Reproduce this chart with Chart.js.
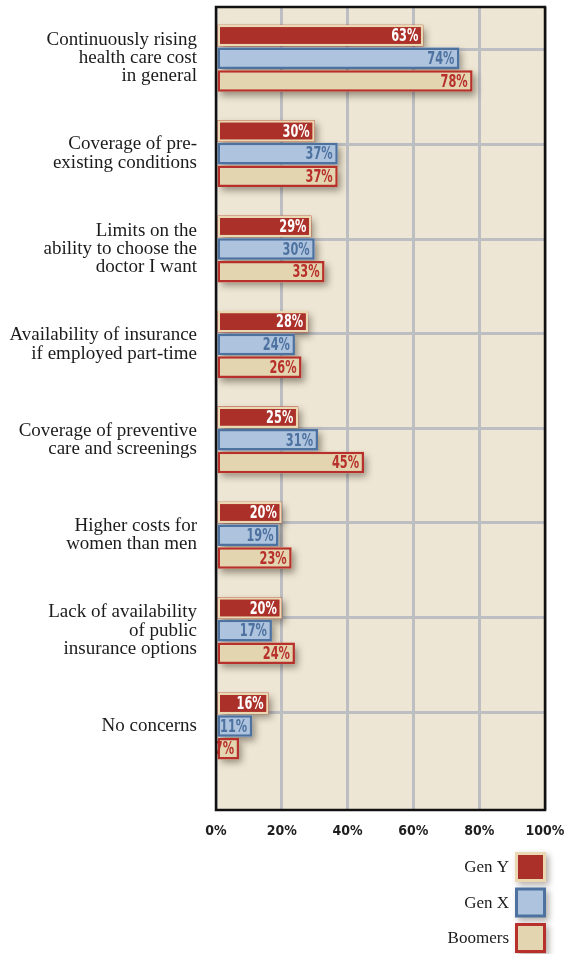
<!DOCTYPE html>
<html>
<head>
<meta charset="utf-8">
<script src="https://cdn.jsdelivr.net/npm/chart.js@4/dist/chart.umd.min.js"></script>
<style>
  html, body { margin: 0; padding: 0; background: #ffffff; }
  #wrap { width: 575px; height: 954px; position: relative; }
</style>
</head>
<body>
<div id="wrap"><canvas id="chart"></canvas></div>
<script>
// Health care concerns by generation (% of respondents)
const categories = [
  ['Continuously rising', 'health care cost', 'in general'],
  ['Coverage of pre-', 'existing conditions'],
  ['Limits on the', 'ability to choose the', 'doctor I want'],
  ['Availability of insurance', 'if employed part-time'],
  ['Coverage of preventive', 'care and screenings'],
  ['Higher costs for', 'women than men'],
  ['Lack of availability', 'of public', 'insurance options'],
  ['No concerns']
];
const genY    = [63, 30, 29, 28, 25, 20, 20, 16];
const genX    = [74, 37, 30, 24, 31, 19, 17, 11];
const boomers = [78, 37, 33, 26, 45, 23, 24, 7];
const seriesNames = ['Gen Y', 'Gen X', 'Boomers'];
const xTickValues = [0, 20, 40, 60, 80, 100];

const PLOT_BG = '#EEE6D4';
const GRID = '#BDBEC2';
const NARROW = "'Liberation Sans Narrow', 'DejaVu Sans Condensed', 'Arial Narrow', sans-serif";
const SERIF = "'Liberation Serif', 'DejaVu Serif', serif";

const styles = [
  { bg: '#AB3029', border: '#EAD8B2', text: '#FFFFFF' },
  { bg: '#AEC3DE', border: '#4E72A0', text: '#4E72A0' },
  { bg: '#E3D5B0', border: '#B8302B', text: '#B8302B' }
];

const toPoints = arr => arr.map((v, i) => ({ x: v, y: i }));

const datasets = [genY, genX, boomers].map((arr, k) => ({
  label: seriesNames[k],
  data: toPoints(arr),
  backgroundColor: styles[k].bg,
  borderColor: styles[k].border,
  borderWidth: 2.5,
  borderSkipped: false,
  valueColor: styles[k].text
}));

// plot background
const plotBackground = {
  id: 'plotBackground',
  beforeDraw(chart) {
    const { ctx, chartArea: a } = chart;
    ctx.save();
    ctx.fillStyle = PLOT_BG;
    ctx.fillRect(a.left, a.top, a.right - a.left, a.bottom - a.top);
    ctx.restore();
  }
};

// soft drop shadow under every bar
const barShadows = {
  id: 'barShadows',
  beforeDatasetsDraw(chart) {
    const ctx = chart.ctx;
    ctx.save();
    chart.data.datasets.forEach((ds, di) => {
      chart.getDatasetMeta(di).data.forEach(el => {
        const p = el.getProps(['x', 'y', 'base', 'height'], true);
        const left = Math.min(p.base, p.x), w = Math.abs(p.x - p.base);
        ctx.shadowColor = 'rgba(40,30,20,0.45)';
        ctx.shadowBlur = 7;
        ctx.shadowOffsetX = 3;
        ctx.shadowOffsetY = 4;
        ctx.fillStyle = ds.backgroundColor;
        ctx.fillRect(left, p.y - p.height / 2, w, p.height);
      });
    });
    ctx.restore();
  }
};

// percentage inside the end of each bar, in a tall narrow face
const valueLabels = {
  id: 'valueLabels',
  afterDatasetsDraw(chart) {
    const ctx = chart.ctx;
    const squeeze = 0.7;
    ctx.save();
    ctx.font = "bold 18px " + NARROW;
    ctx.textAlign = 'right';
    ctx.textBaseline = 'middle';
    ctx.scale(squeeze, 1);
    chart.data.datasets.forEach((ds, di) => {
      ctx.fillStyle = ds.valueColor;
      chart.getDatasetMeta(di).data.forEach((el, i) => {
        const p = el.getProps(['x', 'y'], true);
        ctx.fillText(ds.data[i].x + '%', (p.x - 5) / squeeze, p.y + 1);
      });
    });
    ctx.restore();
  }
};

// black frame round the plot
const plotFrame = {
  id: 'plotFrame',
  afterDatasetsDraw(chart) {
    const { ctx, chartArea: a } = chart;
    ctx.save();
    ctx.strokeStyle = '#111111';
    ctx.lineWidth = 2.5;
    ctx.strokeRect(a.left, a.top, a.right - a.left, a.bottom - a.top);
    ctx.restore();
  }
};

// stacked legend in the lower right, swatch to the right of its name
const sideLegend = {
  id: 'sideLegend',
  afterDraw(chart, args, opts) {
    const ctx = chart.ctx;
    ctx.save();
    chart.data.datasets.forEach((ds, i) => {
      const bx = opts.x, by = opts.y + i * opts.step;
      ctx.save();
      ctx.shadowColor = 'rgba(40,30,20,0.35)';
      ctx.shadowBlur = 6;
      ctx.shadowOffsetX = 3;
      ctx.shadowOffsetY = 3;
      ctx.fillStyle = ds.borderColor;
      ctx.fillRect(bx, by, opts.w, opts.h);
      ctx.restore();
      ctx.fillStyle = ds.backgroundColor;
      ctx.fillRect(bx + 3, by + 3, opts.w - 6, opts.h - 6);
      ctx.fillStyle = '#1b1b1b';
      ctx.font = "17px " + SERIF;
      ctx.textAlign = 'right';
      ctx.textBaseline = 'middle';
      ctx.fillText(ds.label, bx - 6, by + opts.h / 2 + 1);
    });
    ctx.restore();
  }
};

new Chart(document.getElementById('chart'), {
  type: 'bar',
  data: { datasets },
  plugins: [plotBackground, barShadows, valueLabels, plotFrame, sideLegend],
  options: {
    indexAxis: 'y',
    responsive: true,
    maintainAspectRatio: false,
    devicePixelRatio: 1,
    animation: false,
    layout: { padding: { top: 7, right: 30, left: 0, bottom: 0 } },
    datasets: { bar: { categoryPercentage: 0.713, barPercentage: 0.95 } },
    plugins: {
      legend: { display: false },
      tooltip: { enabled: false },
      sideLegend: { x: 515, y: 852, step: 35.5, w: 31, h: 30 }
    },
    scales: {
      x: {
        type: 'linear',
        position: 'bottom',
        min: 0,
        max: 100,
        afterBuildTicks(s) { s.ticks = xTickValues.map(v => ({ value: v })); },
        afterFit(s) { s.height = 144; s.paddingLeft = 0; s.paddingRight = 0; },
        ticks: {
          callback: v => v + '%',
          font: { family: NARROW, size: 14, weight: 'bold' },
          color: '#1e1e1e',
          padding: 13,
          maxRotation: 0
        },
        grid: { color: GRID, lineWidth: 3, drawTicks: false },
        border: { display: false }
      },
      y: {
        type: 'linear',
        position: 'left',
        reverse: true,
        offset: false,
        min: -0.537,
        max: 7.88,
        afterBuildTicks(s) { s.ticks = categories.map((_, i) => ({ value: i })); },
        afterFit(s) { s.width = 216; s.paddingTop = 0; s.paddingBottom = 0; },
        ticks: {
          autoSkip: false,
          callback: v => categories[v],
          font: { family: SERIF, size: 19, lineHeight: 0.96 },
          color: '#1b1b1b',
          padding: 19
        },
        grid: { display: false, drawTicks: false, offset: false },
        border: { display: false }
      },
      yGrid: {
        type: 'linear',
        position: 'left',
        reverse: true,
        offset: false,
        min: -0.4545,
        max: 8.036,
        afterBuildTicks(s) { s.ticks = categories.map((_, i) => ({ value: i })); },
        afterFit(s) { s.width = 0; s.paddingTop = 0; s.paddingBottom = 0; },
        ticks: { display: false },
        grid: { color: GRID, lineWidth: 3, drawTicks: false, offset: false },
        border: { display: false }
      }
    }
  }
});
</script>
</body>
</html>
